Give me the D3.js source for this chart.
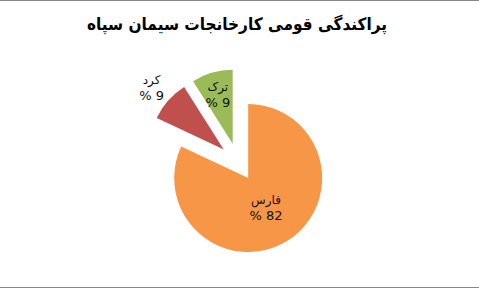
<!DOCTYPE html>
<html>
<head>
<meta charset="utf-8">
<script src="https://cdn.jsdelivr.net/npm/d3@7"></script>
<style>
  body { margin: 0; background: #fff; }
  svg { display: block; }
</style>
</head>
<body>
<div id="chart"></div>
<script>
// data
var categories = ["فارس", "کرد", "ترک"];
var percents = [82, 9, 9];
var colors = ["#F79646", "#C0504D", "#9BBB59"];
var title = "پراکندگی قومی کارخانجات سیمان سپاه";

var width = 479, height = 289;
var cx = 238, cy = 162;
var radius = 74;
var explode = 19;
// label distance as fraction of radius (excel best fit put the red one outside)
var labelPos = [0.45, 1.3, 0.72];
var font = "'DejaVu Sans', Arial, sans-serif";

var svg = d3.select("#chart").append("svg")
  .attr("width", width)
  .attr("height", height);

svg.append("rect")
  .attr("width", width).attr("height", height)
  .attr("fill", "#fff");

// top and bottom border lines
svg.append("line").attr("x1", 0).attr("x2", width).attr("y1", 0.5).attr("y2", 0.5)
  .attr("stroke", "#888").attr("stroke-width", 1);
svg.append("line").attr("x1", 0).attr("x2", width).attr("y1", height - 1.5).attr("y2", height - 1.5)
  .attr("stroke", "#888").attr("stroke-width", 1);

svg.append("text")
  .attr("x", 237)
  .attr("y", 30)
  .attr("text-anchor", "middle")
  .attr("direction", "rtl")
  .attr("textLength", 300)
  .attr("lengthAdjust", "spacingAndGlyphs")
  .style("font-family", font)
  .style("font-weight", "bold")
  .style("font-size", "17px")
  .text(title);

var pie = d3.pie().sort(null).value(function(d){ return d; });
var arcs = pie(percents);

var arc = d3.arc().innerRadius(0).outerRadius(radius);

var g = svg.append("g").attr("transform", "translate(" + cx + "," + cy + ")");

function offset(d, r) {
  var a = (d.startAngle + d.endAngle) / 2;
  return [Math.sin(a) * r, -Math.cos(a) * r];
}

var slice = g.selectAll(".slice")
  .data(arcs)
  .enter().append("g")
  .attr("class", "slice")
  .attr("transform", function(d){
    var o = offset(d, explode);
    return "translate(" + o[0] + "," + o[1] + ")";
  });

slice.append("path")
  .attr("d", arc)
  .attr("fill", function(d, i){ return colors[i]; });

var labels = slice.append("g")
  .attr("transform", function(d, i){
    var o = offset(d, radius * labelPos[i]);
    return "translate(" + o[0] + "," + o[1] + ")";
  });

labels.append("text")
  .attr("y", -2)
  .attr("text-anchor", "middle")
  .attr("direction", "rtl")
  .style("font-family", font)
  .style("font-size", "12px")
  .attr("fill", "#111")
  .text(function(d, i){ return categories[i]; });

// percent sign on the left, like the excel original
labels.append("text")
  .attr("y", 14)
  .attr("text-anchor", "middle")
  .attr("direction", "ltr")
  .style("unicode-bidi", "bidi-override")
  .style("font-family", font)
  .style("font-size", "13px")
  .attr("fill", "#111")
  .text(function(d){ return "% " + d.data; });
</script>
</body>
</html>
